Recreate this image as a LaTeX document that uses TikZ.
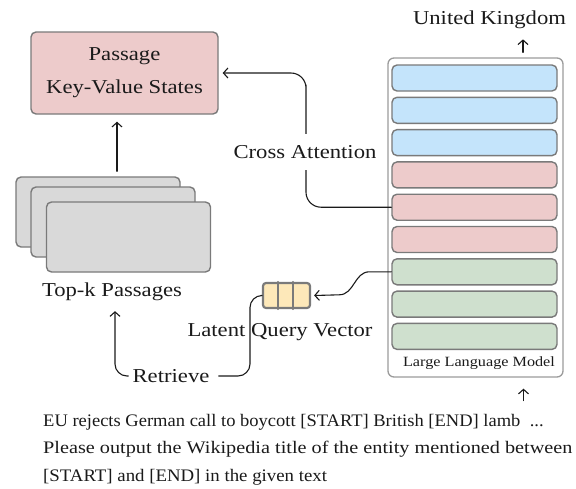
\documentclass[tikz,border=0pt]{standalone}
\usepackage{fontspec}
\usepackage{graphicx}
\setmainfont{Liberation Serif}[FakeStretch=1.15]
\usetikzlibrary{arrows.meta}
\definecolor{kvpink}{HTML}{EDCBCB}
\definecolor{layblue}{HTML}{C4E4FB}
\definecolor{laygreen}{HTML}{CFE0CE}
\definecolor{psgray}{HTML}{D9D9D9}
\definecolor{vecyellow}{HTML}{FDE8B9}
\definecolor{edgegray}{HTML}{7A7A7A}
\definecolor{ink}{HTML}{1A1A1A}
\tikzset{
  box/.style={draw=edgegray, line width=1.4pt, rounded corners=5pt},
  layer/.style={box, minimum width=165pt, minimum height=26pt},
  psg/.style={box, fill=psgray, minimum width=164pt, minimum height=70pt},
  lbl/.style={text=ink, inner sep=2pt},
  conn/.style={draw=ink, line width=1.1pt}
}
\begin{document}
\begin{tikzpicture}[x=1pt, y=-1pt, line join=round, line cap=round,
  >={Straight Barb[length=4.5pt,width=10pt]}, font=\fontsize{19.7}{23}\selectfont]
  \useasboundingbox (0,0) rectangle (576,488);
  % key-value states
  \node[box, fill=kvpink, minimum width=187pt, minimum height=82pt, align=center,
    font=\fontsize{19.7}{33}\selectfont, text=ink] (kv) at (124.5,73) {Passage\\Key-Value States};
  % retrieved passages
  \node[psg] (p1) at (98,212) {};
  \node[psg] (p2) at (113,222) {};
  \node[psg] (p3) at (128.5,237) {};
  \node[lbl] (topk) at (112,292) {Top-k Passages};
  \draw[conn,->] ([xshift=19pt,yshift=5pt]p1.north) -- ([xshift=-7.5pt,yshift=-7pt]kv.south);
  % llm
  \node[draw=edgegray!75, line width=1.3pt, rounded corners=6pt, minimum width=175pt,
    minimum height=319pt] (llm) at (475.5,217.5) {};
  \foreach \i/\c in {0/layblue,1/layblue,2/layblue,3/kvpink,4/kvpink,5/kvpink,6/laygreen,7/laygreen,8/laygreen}
    \node[layer, fill=\c] (l\i) at (474.5,78+32.3*\i) {};
  \node[lbl, font=\fontsize{14.1}{16}\selectfont] (llmname) at (479,363) {Large Language Model};
  \node[lbl] (uk) at (489.5,20) {United Kingdom};
  \draw[conn,->] ([xshift=47.5pt,yshift=5pt]llm.north) -- ([xshift=47.5pt,yshift=18pt]llm.north);
  \draw[conn,->] ([xshift=48pt,yshift=-23pt]llm.south) -- ([xshift=48pt,yshift=-11pt]llm.south);
  % cross attention
  \draw[conn,->, rounded corners=15pt] (l4.west) -| (306,100) |- ([xshift=4pt]kv.east);
  \node[lbl, fill=white, inner ysep=11pt] (xattn) at (305,152) {Cross Attention};
  % latent query vector
  \node[draw=edgegray, line width=2.2pt, fill=vecyellow, rounded corners=3pt,
    minimum width=47pt, minimum height=25pt] (vec) at (286.5,295.5) {};
  \foreach \k in {1,2}
    \draw[edgegray, line width=2.2pt] ([xshift=15.7*\k pt]vec.north west) -- ([xshift=15.7*\k pt]vec.south west);
  \node[lbl] (lqv) at (280,332) {Latent Query Vector};
  \draw[conn,->] (l6.west) -- ++(-22,0) to[out=180,in=0] ++(-30,23) -- ([xshift=3pt]vec.east);
  % retrieve
  \node[lbl] (ret) at (171,376) {Retrieve};
  \draw[conn,->, rounded corners=12pt] ([xshift=-2pt]ret.west) -| ([xshift=3pt,yshift=-8pt]topk.south);
  \draw[conn, rounded corners=12pt] ([xshift=7pt]ret.east) -| (250,320) |- ([xshift=-1pt]vec.west);
  % input
  \node[lbl, anchor=west, align=left, font=\fontsize{17.6}{27.5}\selectfont] (query) at (41,449.5)
    {\scalebox{0.915}[1]{EU rejects German call to boycott [START] British [END] lamb\ \ ...}\\
     Please output the Wikipedia title of the entity mentioned between\\
     \scalebox{0.93}[1]{[START] and [END] in the given text}};
\end{tikzpicture}
\end{document}
